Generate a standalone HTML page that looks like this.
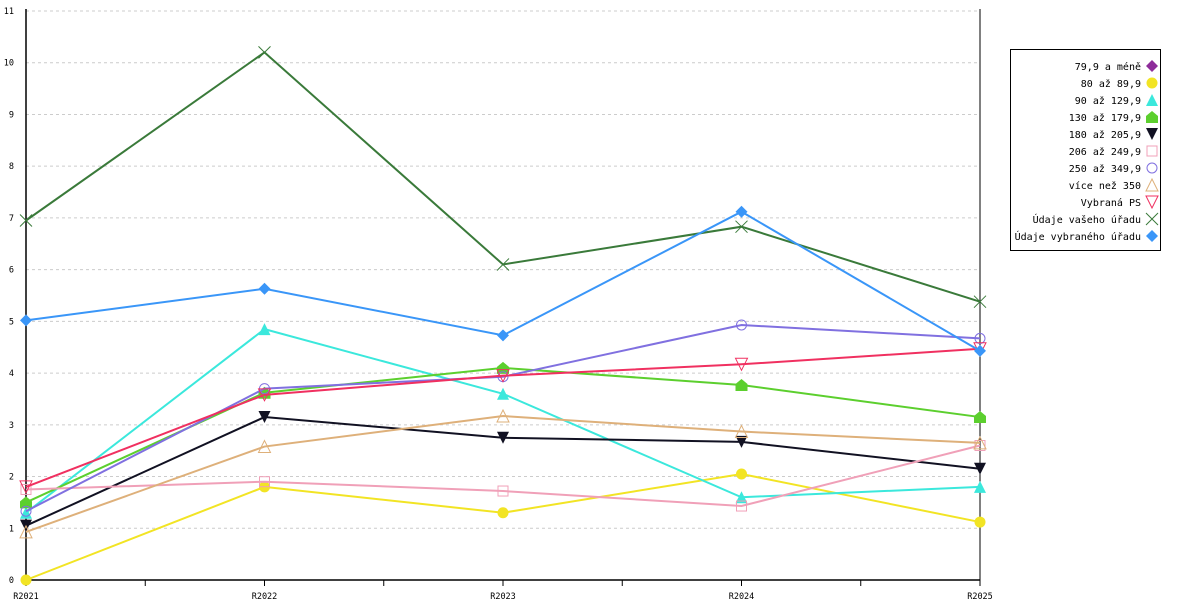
<!DOCTYPE html>
<html><head><meta charset="utf-8"><style>
body{margin:0;background:#fff;width:1200px;height:600px;overflow:hidden}
svg text{font-family:"DejaVu Sans Mono","Liberation Mono",monospace}
</style></head><body>
<svg id="c" width="1200" height="600"></svg>
<script>
const categories=["R2021","R2022","R2023","R2024","R2025"];
const yTicks=[0,1,2,3,4,5,6,7,8,9,10,11];
const seriesNames=["79,9 a méně","80 až 89,9","90 až 129,9","130 až 179,9","180 až 205,9","206 až 249,9","250 až 349,9","více než 350","Vybraná PS","Údaje vašeho úřadu","Údaje vybraného úřadu"];
const seriesColors=["#8e2d9a","#f2e424","#3be8dc","#5ccf2e","#111122","#f0a0b8","#8070e0","#deb07a","#f03060","#3a7a3a","#3a96f8"];
const seriesMarkers=["diamond","circle","tri","house","tridown","square","ocircle","otri","otridown","x","diamond"];
const s0=[];
const s1=[0,1.8,1.3,2.05,1.12];
const s2=[1.3,4.85,3.6,1.6,1.8];
const s3=[1.5,3.62,4.1,3.77,3.15];
const s4=[1.05,3.15,2.75,2.67,2.15];
const s5=[1.75,1.9,1.72,1.43,2.6];
const s6=[1.33,3.7,3.93,4.93,4.67];
const s7=[0.93,2.58,3.17,2.87,2.65];
const s8=[1.8,3.58,3.95,4.17,4.47];
const s9=[6.95,10.2,6.1,6.83,5.38];
const s10=[5.02,5.63,4.73,7.12,4.43];
const allSeries=[s0,s1,s2,s3,s4,s5,s6,s7,s8,s9,s10];
const NS="http://www.w3.org/2000/svg";
const svg=document.getElementById('c');
const X0=26,X1=980,Y0=580,Y1=11;
const xs=i=>X0+i*(X1-X0)/(categories.length-1);
const ys=v=>Y0-v*(Y0-Y1)/11;
function mk(t,a,p){const e=document.createElementNS(NS,t);for(const k in a)e.setAttribute(k,a[k]);(p||svg).appendChild(e);return e;}
yTicks.forEach(v=>{
 if(v>0){const g=mk('line',{x1:X0,x2:X1,y1:ys(v),y2:ys(v),stroke:'#ccc','stroke-dasharray':'3,3'});
 
 }
 const t=mk('text',{x:14,y:ys(v)+3,'font-size':8.5,'text-anchor':'end'});t.textContent=v;
 
 
});
mk('line',{x1:X0,x2:X0,y1:Y1-2,y2:Y0,stroke:'#000','stroke-width':1.5});
mk('line',{x1:X1,x2:X1,y1:Y1-2,y2:Y0,stroke:'#000','stroke-width':1});
mk('line',{x1:X0,x2:X1,y1:Y0,y2:Y0,stroke:'#000','stroke-width':1.5});
categories.forEach((c,i)=>{
 mk('line',{x1:xs(i),x2:xs(i),y1:Y0,y2:Y0+6,stroke:'#000'});
 if(i<categories.length-1){const m=(xs(i)+xs(i+1))/2;mk('line',{x1:m,x2:m,y1:Y0,y2:Y0+6,stroke:'#000'});}
 const t=mk('text',{x:xs(i),y:599,'font-size':8.5,'text-anchor':'middle'});t.textContent=c;
 
 
});
function marker(type,x,y,col,p){
 const r=6;let e;
 if(type=='diamond')e=mk('polygon',{points:`${x},${y-r} ${x+r},${y} ${x},${y+r} ${x-r},${y}`,fill:col},p);
 else if(type=='circle')e=mk('circle',{cx:x,cy:y,r:r-0.5,fill:col},p);
 else if(type=='ocircle')e=mk('circle',{cx:x,cy:y,r:r-1,fill:'none',stroke:col},p);
 else if(type=='tri')e=mk('polygon',{points:`${x},${y-r} ${x+r},${y+r} ${x-r},${y+r}`,fill:col},p);
 else if(type=='otri')e=mk('polygon',{points:`${x},${y-r} ${x+r},${y+r} ${x-r},${y+r}`,fill:'none',stroke:col},p);
 else if(type=='tridown')e=mk('polygon',{points:`${x-r},${y-r} ${x+r},${y-r} ${x},${y+r}`,fill:col},p);
 else if(type=='otridown')e=mk('polygon',{points:`${x-r},${y-r} ${x+r},${y-r} ${x},${y+r}`,fill:'none',stroke:col},p);
 else if(type=='house')e=mk('polygon',{points:`${x},${y-r} ${x+r},${y-1} ${x+r},${y+r} ${x-r},${y+r} ${x-r},${y-1}`,fill:col},p);
 else if(type=='square')e=mk('rect',{x:x-r+1,y:y-r+1,width:2*r-2,height:2*r-2,fill:'none',stroke:col},p);
 else if(type=='x')e=mk('path',{d:`M${x-r},${y-r}L${x+r},${y+r}M${x+r},${y-r}L${x-r},${y+r}`,stroke:col,fill:'none'},p);
 return e;
}
allSeries.forEach((s,k)=>{
 if(!s.length)return;
 const g=mk('g',{});
 
 
 mk('polyline',{points:s.map((v,i)=>xs(i)+','+ys(v)).join(' '),fill:'none',stroke:seriesColors[k],'stroke-width':2},g);
 s.forEach((v,i)=>{const m=marker(seriesMarkers[k],xs(i),ys(v),seriesColors[k],g);
  
  });
});
const lg=mk('g',{});


mk('rect',{x:1010.5,y:49.5,width:150,height:201,fill:'#fff',stroke:'#000'},lg);
seriesNames.forEach((n,k)=>{
 const y=66+k*17;
 const t=mk('text',{x:1141,y:y+4,'font-size':10,'text-anchor':'end'},lg);t.textContent=n;
 
 
 marker(seriesMarkers[k],1152,y,seriesColors[k],lg);
});
</script>
</body></html>
